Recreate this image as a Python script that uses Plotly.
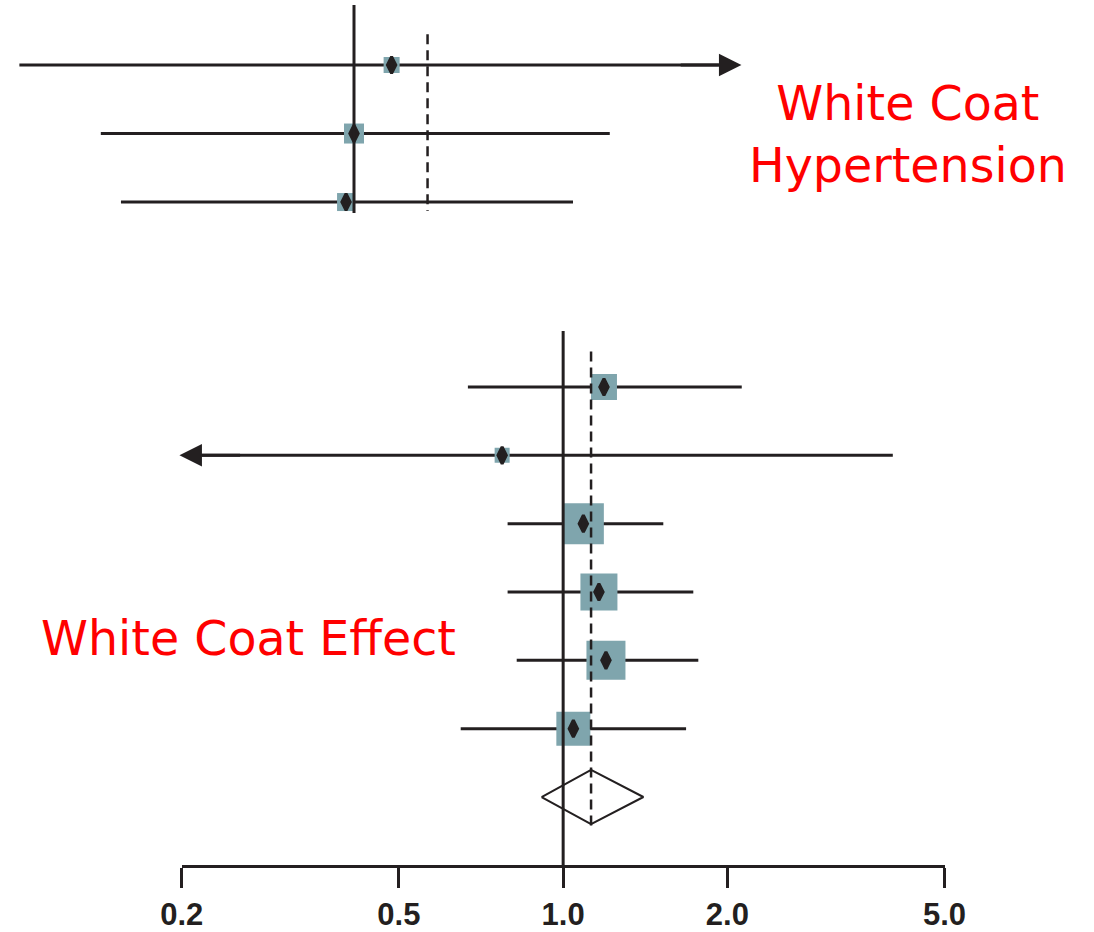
import numpy as np
import plotly.graph_objects as go

# ---------------- data ----------------
# Top panel (White Coat Hypertension)
top_rows = [1, 2, 3]
top_est = [1.172, 1.00, 0.967]
top_lo = [0.2436, 0.3435, 0.374]
top_hi = [5.13, 2.943, 2.52]
top_size = [16, 20, 18]
top_arrow_right = [True, False, False]
top_pooled = 1.364

# Bottom panel (White Coat Effect)
bot_rows = [1, 2, 3, 4, 5, 6]
bot_est = [1.188, 0.773, 1.089, 1.163, 1.198, 1.044]
bot_lo = [0.669, 0.198, 0.791, 0.791, 0.822, 0.649]
bot_hi = [2.125, 4.02, 1.526, 1.732, 1.769, 1.680]
bot_size = [26, 15, 41, 37, 39, 34]
bot_arrow_left = [False, True, False, False, False, False]
pooled_row = 7
pooled_est = 1.125
pooled_lo = 0.913
pooled_hi = 1.403

tick_vals = [0.2, 0.5, 1.0, 2.0, 5.0]
tick_text = ["0.2", "0.5", "1.0", "2.0", "5.0"]

INK = "#231f20"
BOX = "#7fa5ad"
W, H = 1094, 932

fig = go.Figure()

# ---------- bottom panel ----------
for r, lo, hi, arr in zip(bot_rows, bot_lo, bot_hi, bot_arrow_left):
    fig.add_trace(go.Scatter(x=[lo if not arr else lo * 1.1, hi], y=[r, r], mode="lines",
                             line=dict(color=INK, width=3), xaxis="x", yaxis="y",
                             showlegend=False, hoverinfo="skip"))
fig.add_trace(go.Scatter(x=bot_est, y=bot_rows, mode="markers", opacity=1,
                         marker=dict(symbol="square", size=bot_size, color=BOX, opacity=1,
                                     line=dict(width=0)),
                         xaxis="x", yaxis="y", showlegend=False))
fig.add_trace(go.Scatter(x=bot_est, y=bot_rows, mode="markers",
                         marker=dict(symbol="diamond-tall", size=12, color=INK, opacity=1,
                                     line=dict(color=INK, width=3)),
                         xaxis="x", yaxis="y", showlegend=False))
# pooled diamond
h = 0.397
fig.add_trace(go.Scatter(x=[pooled_lo, pooled_est, pooled_hi, pooled_est, pooled_lo],
                         y=[pooled_row, pooled_row - h, pooled_row, pooled_row + h, pooled_row],
                         mode="lines", line=dict(color=INK, width=2), xaxis="x", yaxis="y",
                         showlegend=False, hoverinfo="skip"))

# ---------- top panel ----------
for r, lo, hi, arr in zip(top_rows, top_lo, top_hi, top_arrow_right):
    fig.add_trace(go.Scatter(x=[lo, hi if not arr else hi / 1.1], y=[r, r], mode="lines",
                             line=dict(color=INK, width=3), xaxis="x2", yaxis="y2",
                             showlegend=False, hoverinfo="skip"))
fig.add_trace(go.Scatter(x=top_est, y=top_rows, mode="markers",
                         marker=dict(symbol="square", size=top_size, color=BOX, opacity=1,
                                     line=dict(width=0)),
                         xaxis="x2", yaxis="y2", showlegend=False))
fig.add_trace(go.Scatter(x=top_est, y=top_rows, mode="markers",
                         marker=dict(symbol="diamond-tall", size=12, color=INK, opacity=1,
                                     line=dict(color=INK, width=3)),
                         xaxis="x2", yaxis="y2", showlegend=False))

DASH = "10px,6px"
shapes = [
    dict(type="line", xref="x", yref="y domain", x0=1.0, x1=1.0, y0=0, y1=1,
         line=dict(color=INK, width=3)),
    dict(type="line", xref="x", yref="y", x0=pooled_est, x1=pooled_est, y0=0.48, y1=7.48,
         line=dict(color=INK, width=2.5, dash=DASH)),
    dict(type="line", xref="x2", yref="y2 domain", x0=1.0, x1=1.0, y0=0, y1=1,
         line=dict(color=INK, width=3)),
    dict(type="line", xref="x2", yref="y2", x0=top_pooled, x1=top_pooled, y0=0.55, y1=3.13,
         line=dict(color=INK, width=2.5, dash=DASH)),
]

annotations = []
for r, lo, hi, arr in zip(bot_rows, bot_lo, bot_hi, bot_arrow_left):
    if arr:
        annotations.append(dict(x=np.log10(lo), y=r, ax=np.log10(lo * 1.3), ay=r,
                                xref="x", yref="y", axref="x", ayref="y", text="",
                                showarrow=True, arrowhead=2, arrowsize=1.5, arrowwidth=3,
                                arrowcolor=INK))
for r, lo, hi, arr in zip(top_rows, top_lo, top_hi, top_arrow_right):
    if arr:
        annotations.append(dict(x=np.log10(hi), y=r, ax=np.log10(hi / 1.3), ay=r,
                                xref="x2", yref="y2", axref="x2", ayref="y2", text="",
                                showarrow=True, arrowhead=2, arrowsize=1.5, arrowwidth=3,
                                arrowcolor=INK))

annotations.append(dict(x=908 / W, y=1 - 134 / H, xref="paper", yref="paper",
                        text="White Coat<br>Hypertension", showarrow=False,
                        font=dict(family="DejaVu Sans", size=47.5, color="#ff0000"),
                        xanchor="center", yanchor="middle", align="center"))
annotations.append(dict(x=39 / W, y=1 - 638 / H, xref="paper", yref="paper",
                        text="White Coat Effect", showarrow=False,
                        font=dict(family="DejaVu Sans", size=47.5, color="#ff0000"),
                        xanchor="left", yanchor="middle"))

bx0, bx1 = 181.8 / W, 944.5 / W
px_per_dec = (944.5 - 181.8) / np.log10(25)

fig.update_layout(
    width=W, height=H,
    margin=dict(l=0, r=0, t=0, b=0, autoexpand=False),
    paper_bgcolor="white", plot_bgcolor="rgba(0,0,0,0)",
    showlegend=False,
    xaxis=dict(type="log", domain=[bx0, bx1], range=[np.log10(0.2), np.log10(5)],
               anchor="y", showline=True, linecolor=INK, linewidth=3, automargin=False,
               ticks="outside", ticklen=20, tickwidth=3, tickcolor=INK,
               tickvals=tick_vals, ticktext=tick_text, showgrid=False, zeroline=False,
               tickfont=dict(family="Liberation Sans", size=31, color=INK, weight=700)),
    yaxis=dict(domain=[1 - 865 / H, 1 - 331 / H], range=[7.995, 0.18], visible=False,
               showgrid=False, zeroline=False, automargin=False),
    xaxis2=dict(type="log", domain=[0, 1], anchor="y2", automargin=False,
                range=[-354 / px_per_dec, (W - 354) / px_per_dec], visible=False,
                showgrid=False, zeroline=False),
    yaxis2=dict(domain=[1 - 213 / H, 1 - 5 / H], range=[3.16, 0.124], visible=False,
                showgrid=False, zeroline=False, automargin=False),
    shapes=shapes,
    annotations=annotations,
)

fig.write_html("out.html")
